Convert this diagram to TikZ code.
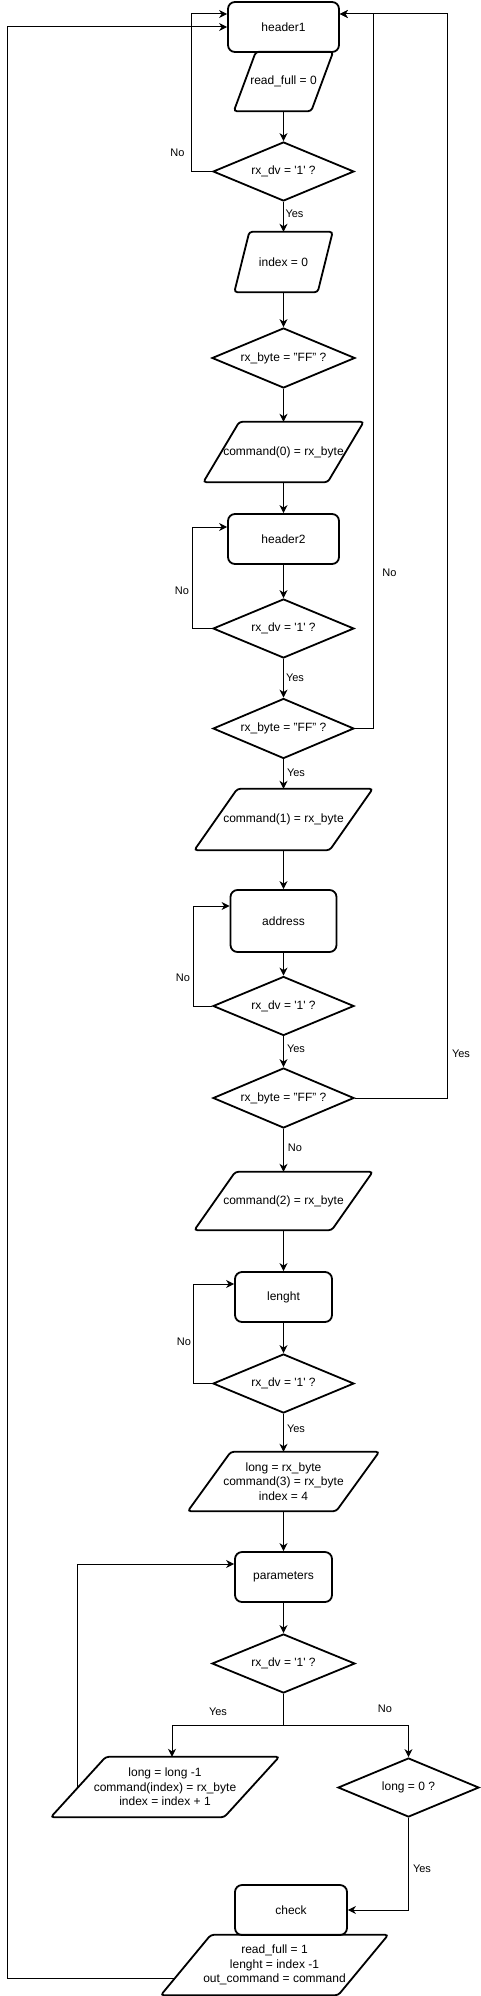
\documentclass[tikz,border=0pt]{standalone}
\usepackage{fontspec}
\setmainfont{Liberation Sans}
\usetikzlibrary{shapes.geometric,arrows.meta}
\newcommand{\sqt}[1]{\textquotesingle#1\textquotesingle}
\begin{document}
\begin{tikzpicture}[x=1pt,y=-1pt,
    font=\fontsize{12}{14.5}\selectfont,
    box/.style={draw,line width=1.8pt,rounded corners=7pt,minimum width=#1,minimum height=50,inner sep=0pt},
    io/.style={inner sep=0pt,align=center},
    ask/.style={diamond,aspect=2.4,draw,line width=1.8pt,inner sep=0pt,minimum width=141,minimum height=59},
    arr/.style={line width=1pt,-{Stealth[length=8pt,width=8pt,inset=2.5pt]}},
    lbl/.style={font=\fontsize{11}{13}\selectfont,inner sep=0pt}]
    \useasboundingbox (0,0) rectangle (480,1996);
    % header1
    \node[box=111] (h1) at (283.5,27) {header1};
    \node[io,minimum width=99,minimum height=59] (rf0) at (283.5,81.5) {read\_full = 0};
    \node[ask] (dv1) at (283.5,171.5) {rx\_dv = \sqt{1} ?};
    \node[io,minimum width=98,minimum height=60] (idx) at (283.5,262) {index = 0};
    \node[ask,minimum width=143,minimum height=60] (ff1) at (283.5,358) {rx\_byte = "FF" ?};
    \node[io,minimum width=160,minimum height=60] (c0) at (283.5,452) {command(0) = rx\_byte};
    % header2
    \node[box=111] (h2) at (283.5,539) {header2};
    \node[ask] (dv2) at (283.5,628.5) {rx\_dv = \sqt{1} ?};
    \node[ask,minimum height=60] (ff2) at (283.5,728.5) {rx\_byte = "FF" ?};
    \node[io,minimum width=178,minimum height=61] (c1) at (283.5,819.5) {command(1) = rx\_byte};
    % address
    \node[box=106,minimum height=62] (ad) at (283.5,921) {address};
    \node[ask] (dv3) at (283.5,1006) {rx\_dv = \sqt{1} ?};
    \node[ask,minimum height=60] (ff3) at (283.5,1098) {rx\_byte = "FF" ?};
    \node[io,minimum width=178,minimum height=58] (c2) at (283.5,1201) {command(2) = rx\_byte};
    % lenght
    \node[box=97] (ln) at (283.5,1297) {lenght};
    \node[ask] (dv4) at (283.5,1383.5) {rx\_dv = \sqt{1} ?};
    \node[io,minimum width=191,minimum height=59] (ld) at (283.5,1481.5) {long = rx\_byte\\command(3) = rx\_byte\\index = 4};
    % parameters
    \node[box=97] (pm) at (283.5,1577) {parameters};
    \node[ask,minimum width=143] (dv5) at (283.5,1663.5) {rx\_dv = \sqt{1} ?};
    \node[io,minimum width=228,minimum height=60] (dec) at (165,1787) {long = long -1\\command(index) = rx\_byte\\index = index + 1};
    \node[ask] (z) at (408.5,1787.5) {long = 0 ?};
    % check
    \node[box=112] (ck) at (291,1910) {check};
    \node[io,minimum width=227,minimum height=60] (rf1) at (274.5,1965) {read\_full = 1\\lenght = index -1\\out\_command = command};
    % parallelogramme
    \foreach \n/\s in {rf0/22,idx/15,c0/36,c1/43,c2/41,ld/43,dec/55,rf1/50}
        \draw[line width=1.8pt,rounded corners=3pt] ([xshift=\s]\n.north west) -- (\n.north east)
            -- ([xshift=-\s]\n.south east) -- (\n.south west) -- cycle;
    % Pfeile
    \draw[arr] (rf0.south) -- (dv1.north);
    \draw[arr] (dv1.west) -- ++(-21,0) |- ([yshift=13]h1.west);
    \draw[arr] (dv1.south) -- (idx.north);
    \draw[arr] (idx.south) -- (ff1.north);
    \draw[arr] (ff1.south) -- (c0.north);
    \draw[arr] (c0.south) -- (h2.north);
    \draw[arr] (h2.south) -- (dv2.north);
    \draw[arr] (dv2.west) -- ++(-20,0) |- ([yshift=12]h2.west);
    \draw[arr] (dv2.south) -- (ff2.north);
    \draw[arr] (ff2.east) -- ++(19,0) |- ([yshift=13]h1.east);
    \draw[arr] (ff2.south) -- (c1.north);
    \draw[arr] (c1.south) -- (ad.north);
    \draw[arr] (ad.south) -- (dv3.north);
    \draw[arr] (dv3.west) -- ++(-19,0) |- ([yshift=15]ad.west);
    \draw[arr] (dv3.south) -- (ff3.north);
    \draw[arr] (ff3.east) -- ++(93,0) |- ([yshift=13]h1.east);
    \draw[arr] (ff3.south) -- (c2.north);
    \draw[arr] (c2.south) -- (ln.north);
    \draw[arr] (ln.south) -- (dv4.north);
    \draw[arr] (dv4.west) -- ++(-19,0) |- ([yshift=13]ln.west);
    \draw[arr] (dv4.south) -- (ld.north);
    \draw[arr] (ld.south) -- (pm.north);
    \draw[arr] (pm.south) -- (dv5.north);
    \draw[arr] (dv5.south) -- ++(0,32) -| ([xshift=7]dec.north);
    \draw[arr] (dv5.south) -- ++(0,32) -| (z.north);
    \draw[arr] ([xshift=27]dec.west) |- ([yshift=13]pm.west);
    \draw[arr] (z.south) |- (ck.east);
    \draw[arr] ([xshift=14,yshift=-13]rf1.west) -- (7,1978) |- (h1.west);
    % Yes / No
    \foreach \x/\y/\t in {177.5/153/No,294.5/214/Yes,182/591/No,295/678/Yes,389.5/573/No,
        296/773/Yes,183/978/No,296/1049/Yes,461/1054/Yes,295/1148/No,184/1342/No,
        296/1429/Yes,218/1712/Yes,385/1709/No,422/1869/Yes}
        \node[lbl] (l\y) at (\x,\y) {\t};
\end{tikzpicture}
\end{document}
